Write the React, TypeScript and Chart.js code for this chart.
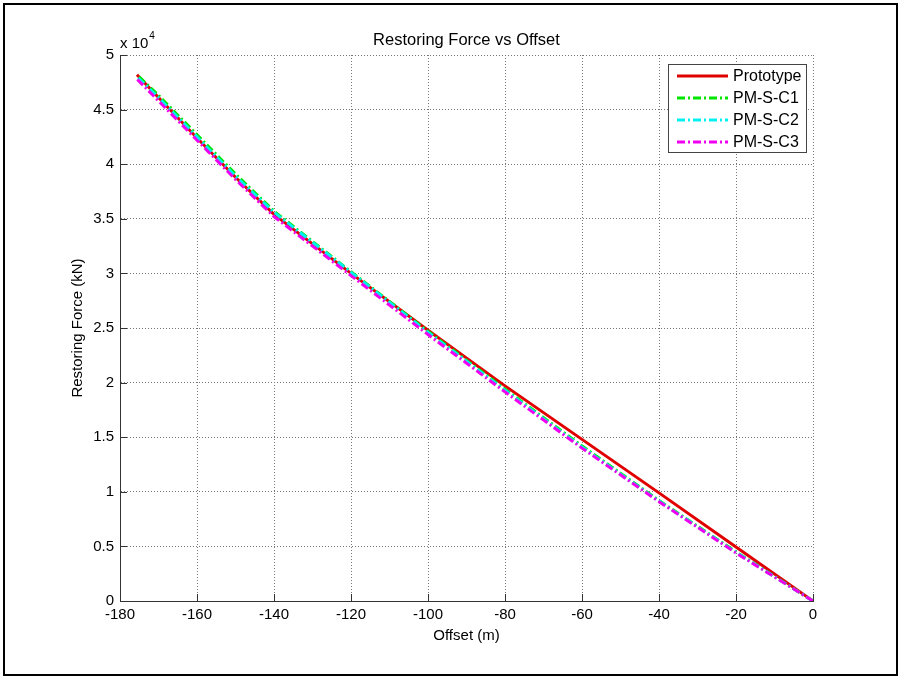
import React, { useEffect, useRef } from "react";
import { Chart, registerables } from "chart.js";

Chart.register(...registerables);

const offsets = [0, -20, -40, -60, -80, -100, -120, -140, -150, -160, -170, -175.6];
const prototype = [0, 4950, 9900, 14800, 19700, 24800, 30000, 35400, 38800, 42400, 46100, 48200];
const pmSC1 = [0, 4500, 9200, 14200, 19400, 24700, 30150, 35700, 39100, 42700, 46300, 48200];
const pmSC2 = [0, 4450, 9150, 14100, 19300, 24600, 30100, 35600, 38900, 42500, 46100, 48000];
const pmSC3 = [0, 4400, 9100, 14000, 19150, 24400, 29800, 35200, 38600, 42200, 45800, 47800];

const seriesNames = ["Prototype", "PM-S-C1", "PM-S-C2", "PM-S-C3"];
const seriesColors = ["rgb(225,0,0)", "rgb(0,230,0)", "rgb(0,240,240)", "rgb(240,0,240)"];
const seriesValues = [prototype, pmSC1, pmSC2, pmSC3];

const xTicks = [-180, -160, -140, -120, -100, -80, -60, -40, -20, 0];
const yTicks = [0, 5000, 10000, 15000, 20000, 25000, 30000, 35000, 40000, 45000, 50000];

const FONT = '"Liberation Sans", Arial, Helvetica, sans-serif';
const DASHDOT = [8, 3, 2, 3];

const decorPlugin = {
  id: "decor",
  afterDraw(chart: any) {
    const ctx = chart.ctx as CanvasRenderingContext2D;
    const area = chart.chartArea;
    const xs = chart.scales.x;
    const ys = chart.scales.y;
    ctx.save();
    // inward ticks
    ctx.strokeStyle = "#333";
    ctx.lineWidth = 1;
    ctx.beginPath();
    xTicks.forEach((t) => {
      const px = Math.round(xs.getPixelForValue(t)) + 0.5;
      ctx.moveTo(px, area.bottom);
      ctx.lineTo(px, area.bottom - 7);
    });
    yTicks.forEach((t) => {
      const py = Math.round(ys.getPixelForValue(t)) + 0.5;
      ctx.moveTo(area.left, py);
      ctx.lineTo(area.left + 7, py);
    });
    ctx.stroke();

    // title and axis labels
    ctx.fillStyle = "#000";
    ctx.textAlign = "center";
    ctx.textBaseline = "middle";
    const cx = (area.left + area.right) / 2;
    ctx.font = `16.5px ${FONT}`;
    ctx.fillText("Restoring Force vs Offset", cx, 40);
    ctx.font = `15px ${FONT}`;
    ctx.fillText("Offset (m)", cx, 636);
    ctx.save();
    ctx.translate(78, (area.top + area.bottom) / 2);
    ctx.rotate(-Math.PI / 2);
    ctx.fillText("Restoring Force (kN)", 0, 0);
    ctx.restore();

    // exponent label
    ctx.textAlign = "left";
    ctx.fillText("x 10", area.left, 44);
    const w = ctx.measureText("x 10").width;
    ctx.font = `10px ${FONT}`;
    ctx.fillText("4", area.left + w + 1, 36);

    // legend
    const lx = 668.5, ly = 64.5, lw = 138, lh = 88;
    ctx.fillStyle = "#fff";
    ctx.fillRect(lx, ly, lw, lh);
    ctx.strokeStyle = "#444";
    ctx.lineWidth = 1;
    ctx.strokeRect(lx, ly, lw, lh);
    ctx.font = `16px ${FONT}`;
    ctx.textBaseline = "middle";
    seriesNames.forEach((name, i) => {
      const y = 76 + i * 22;
      ctx.save();
      ctx.strokeStyle = seriesColors[i];
      ctx.lineWidth = 3;
      ctx.setLineDash(i === 0 ? [] : DASHDOT);
      ctx.beginPath();
      ctx.moveTo(677, y);
      ctx.lineTo(728, y);
      ctx.stroke();
      ctx.restore();
      ctx.fillStyle = "#000";
      ctx.fillText(name, 733, y + 1);
    });

    // outer frame
    ctx.strokeStyle = "#000";
    ctx.lineWidth = 2;
    ctx.setLineDash([]);
    ctx.strokeRect(4, 4, 893, 671);
    ctx.restore();
  },
};

export default function App() {
  const ref = useRef<HTMLCanvasElement>(null);
  useEffect(() => {
    if (!ref.current) return;
    const datasets = seriesValues.map((vals, i) => ({
      label: seriesNames[i],
      data: offsets.map((x, k) => ({ x, y: vals[k] })),
      borderColor: seriesColors[i],
      backgroundColor: seriesColors[i],
      borderWidth: 3,
      borderDash: i === 0 ? [] : DASHDOT,
      pointRadius: 0,
      showLine: true,
      tension: 0,
      order: 3 - i,
    }));
    const chart = new Chart(ref.current, {
      type: "scatter",
      data: { datasets },
      options: {
        animation: false,
        responsive: false,
        maintainAspectRatio: false,
        layout: { padding: { left: 0, top: 55, right: 86, bottom: 0 } },
        plugins: { legend: { display: false }, tooltip: { enabled: false }, title: { display: false } },
        scales: {
          x: {
            type: "linear",
            min: -180,
            max: 0,
            afterBuildTicks: (s: any) => { s.ticks = xTicks.map((v) => ({ value: v })); },
            afterFit: (s: any) => { s.height = 75; },
            ticks: { font: { family: FONT, size: 15 }, color: "#000", padding: 5, maxRotation: 0, autoSkip: false },
            grid: { color: "#777", lineWidth: 1, drawTicks: false },
            border: { display: true, color: "#333", width: 1, dash: [1, 2] },
          },
          y: {
            type: "linear",
            min: 0,
            max: 50000,
            afterBuildTicks: (s: any) => { s.ticks = yTicks.map((v) => ({ value: v })); },
            afterFit: (s: any) => { s.width = 120; },
            ticks: {
              font: { family: FONT, size: 15 },
              color: "#000",
              padding: 6,
              autoSkip: false,
              callback: (v: any) => String(Number(v) / 10000),
            },
            grid: { color: "#777", lineWidth: 1, drawTicks: false },
            border: { display: true, color: "#333", width: 1, dash: [1, 2] },
          },
        },
      },
      plugins: [decorPlugin],
    });
    return () => chart.destroy();
  }, []);
  return (
    <div style={{ position: "absolute", left: 0, top: 0, width: 899, height: 676, background: "#fff" }}>
      <canvas ref={ref} width={899} height={676} style={{ display: "block" }} />
    </div>
  );
}
